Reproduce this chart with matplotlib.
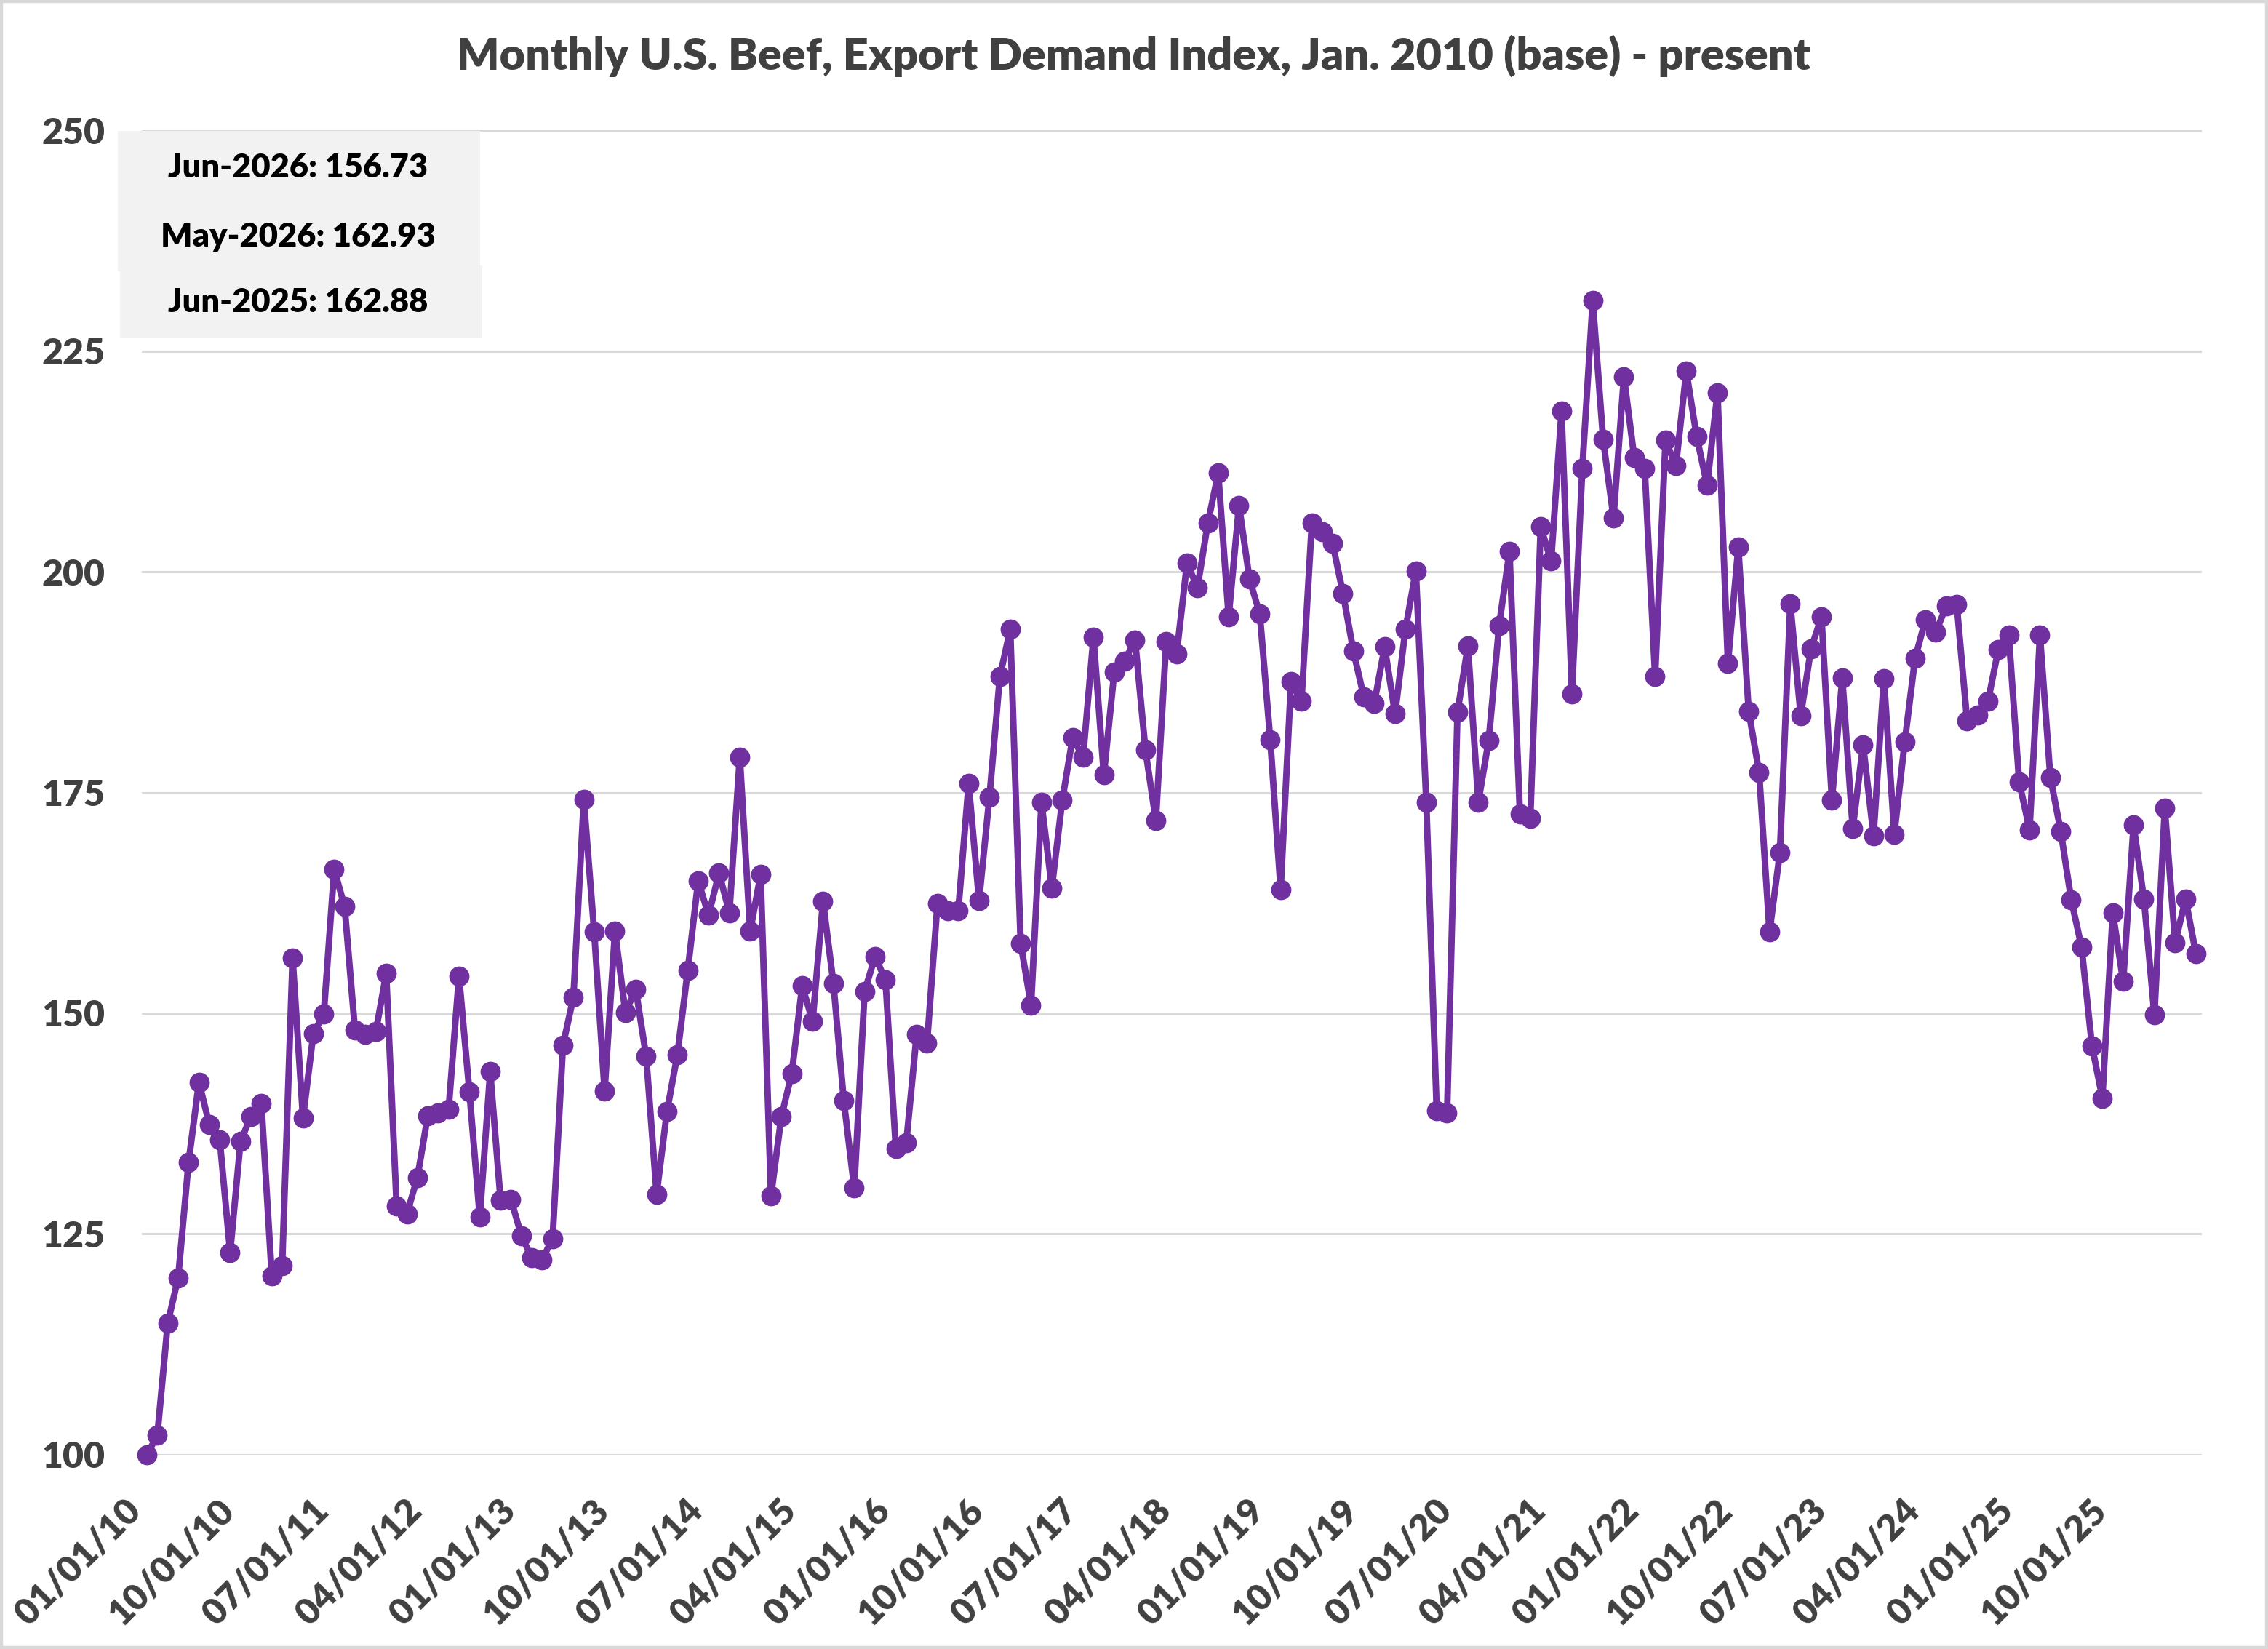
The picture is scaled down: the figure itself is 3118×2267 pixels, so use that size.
import matplotlib as mpl
import matplotlib.pyplot as plt
import pandas as pd
from matplotlib.patches import Rectangle

mpl.rcParams['font.family'] = ['Lato', 'DejaVu Sans']

# monthly export demand index, Jan 2010 = 100
index_values = [
    100.0, 102.2, 114.9, 120.0, 133.1, 142.2, 137.4, 135.7, 122.9, 135.5, 138.3, 139.8,  # 2010
    120.3, 121.4, 156.3, 138.1, 147.7, 149.9, 166.3, 162.1, 148.1, 147.6, 147.9, 154.5,  # 2011
    128.2, 127.3, 131.4, 138.4, 138.7, 139.1, 154.2, 141.1, 126.9, 143.4, 128.8, 128.9,  # 2012
    124.8, 122.3, 122.1, 124.5, 146.4, 151.8, 174.2, 159.2, 141.2, 159.3, 150.1, 152.7,  # 2013
    145.1, 129.5, 138.9, 145.3, 154.9, 165.0, 161.1, 165.9, 161.4, 179.0, 159.3, 165.7,  # 2014
    129.3, 138.3, 143.2, 153.1, 149.1, 162.7, 153.4, 140.1, 130.2, 152.5, 156.4, 153.8,  # 2015
    134.7, 135.3, 147.6, 146.6, 162.4, 161.6, 161.6, 176.0, 162.8, 174.5, 188.1, 193.5,  # 2016
    157.9, 150.9, 173.9, 164.2, 174.1, 181.2, 179.0, 192.6, 177.0, 188.6, 189.9, 192.3,  # 2017
    179.8, 171.8, 192.1, 190.7, 201.0, 198.2, 205.5, 211.2, 194.9, 207.5, 199.2, 195.2,  # 2018
    181.0, 164.0, 187.6, 185.3, 205.5, 204.5, 203.2, 197.5, 191.0, 185.8, 185.1, 191.5,  # 2019
    183.9, 193.5, 200.1, 173.9, 139.0, 138.7, 184.1, 191.6, 173.9, 180.9, 193.9, 202.3,  # 2020
    172.6, 172.1, 205.1, 201.2, 218.2, 186.2, 211.7, 230.7, 215.0, 206.1, 222.1, 212.9,  # 2021
    211.7, 188.1, 214.9, 212.0, 222.7, 215.3, 209.8, 220.3, 189.6, 202.8, 184.2, 177.3,  # 2022
    159.2, 168.2, 196.4, 183.7, 191.3, 194.9, 174.1, 188.0, 170.9, 180.4, 170.1, 187.9,  # 2023
    170.3, 180.7, 190.2, 194.6, 193.2, 196.1, 196.3, 183.1, 183.8, 185.3, 191.2, 192.8,  # 2024
    176.2, 170.8, 192.8, 176.7, 170.6, 162.88, 157.5, 146.3, 140.4, 161.4, 153.6, 171.3,  # 2025
    162.9, 149.8, 173.2, 158.0, 162.93, 156.73,  # 2026
]
months = pd.date_range('2010-01-01', periods=len(index_values), freq='MS')
tick_step = 9
y_ticks = [100, 125, 150, 175, 200, 225, 250]

title = "Monthly U.S. Beef, Export Demand Index, Jan. 2010 (base) - present"
purple = '#7030A0'
grey_text = '#404040'
heavy = 'heavy'

fig = plt.figure(figsize=(15.59, 11.335), dpi=200)
ax = fig.add_axes([0.0625, 0.1178, 0.9083, 0.8032])

x = list(range(len(index_values)))
ax.plot(x, index_values, color=purple, lw=3.2, marker='o', ms=9,
        solid_joinstyle='round', clip_on=False, zorder=3)

ax.set_ylim(100, 250)
ax.set_yticks(y_ticks)
ax.set_xlim(-0.5, len(index_values) - 0.44)
ax.grid(axis='y', color='#d9d9d9', lw=1.1, zorder=0)
for s in ax.spines.values():
    s.set_visible(False)

xt = x[::tick_step]
ax.set_xticks(xt)
ax.set_xticklabels([months[i].strftime('%m/%d/%y') for i in xt],
                   rotation=45, ha='right', va='top')
ax.tick_params(axis='x', length=0, pad=19, labelsize=18, labelcolor=grey_text)
ax.tick_params(axis='y', length=0, pad=18, labelsize=18, labelcolor=grey_text)
for lab in ax.get_xticklabels() + ax.get_yticklabels():
    lab.set_fontweight(heavy)

fig.text(0.5, 0.966, title, ha='center', va='center', fontsize=22,
         fontweight=heavy, color=grey_text)

# summary box: latest, previous month, same month last year
fig.patches.append(Rectangle((0.052, 0.8355), 0.1597, 0.0851, transform=fig.transFigure,
                             facecolor='#f2f2f2', edgecolor='none', zorder=4))
fig.patches.append(Rectangle((0.0529, 0.7953), 0.1597, 0.0437, transform=fig.transFigure,
                             facecolor='#f2f2f2', edgecolor='none', zorder=4))
box_idx = [len(index_values) - 1, len(index_values) - 2, len(index_values) - 13]
box_y = [0.8985, 0.8566, 0.8169]
for i, yy in zip(box_idx, box_y):
    fig.text(0.1315, yy, f"{months[i].strftime('%b-%Y')}: {index_values[i]:.2f}",
             ha='center', va='center', fontsize=16.3, fontweight=heavy,
             color='black', zorder=5)

# thin outer border
fig.patches.append(Rectangle((0.0005, 0.0007), 0.999, 0.9986, transform=fig.transFigure,
                             fill=False, edgecolor='#d9d9d9', lw=1.6, zorder=6))

fig.savefig('out.png', dpi=200)
